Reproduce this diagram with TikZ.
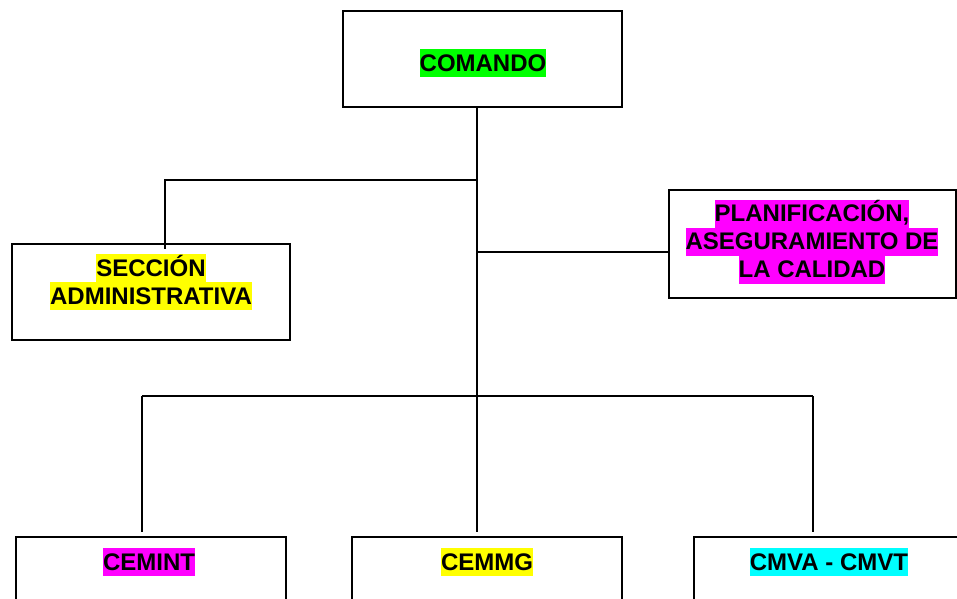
\documentclass[tikz,border=0pt]{standalone}
\usepackage{fontspec}
\setmainfont{Liberation Sans}
\definecolor{hlgreen}{RGB}{0,255,0}
\definecolor{hlyellow}{RGB}{255,255,0}
\definecolor{hlmagenta}{RGB}{255,0,255}
\definecolor{hlcyan}{RGB}{0,255,255}
\newcommand\hlt[2]{{\setlength{\fboxsep}{0pt}\colorbox{#1}{\rule[-6pt]{0pt}{28pt}#2}}}
\tikzset{
  orgbox/.style={draw=black, line width=2pt, rectangle, inner sep=0pt},
  lbl/.style={inner sep=0pt, align=center, text=black,
    font=\fontsize{24}{28}\selectfont\bfseries},
  conn/.style={draw=black, line width=1.6pt}
}
\begin{document}
\begin{tikzpicture}[x=1pt, y=-1pt]
\clip (0,0) rectangle (957,598);
\fill[white] (0,0) rectangle (957,598);
% boxes
\node[orgbox, minimum width=279pt, minimum height=96pt] (cmd) at (482.5,59) {};
\node[orgbox, minimum width=278pt, minimum height=96pt] (sec) at (151,292) {};
\node[orgbox, minimum width=287pt, minimum height=108pt] (plan) at (812.5,244) {};
\node[orgbox, minimum width=270pt, minimum height=103pt] (cemint) at (151,588.5) {};
\node[orgbox, minimum width=270pt, minimum height=103pt] (cemmg) at (487,588.5) {};
\node[orgbox, minimum width=270pt, minimum height=103pt] (cmva) at (829,588.5) {};
% labels
\node[lbl] (cmdt) at (483,63) {\hlt{hlgreen}{COMANDO}};
\node[lbl] (sect) at (151,282) {\hlt{hlyellow}{SECCIÓN}\\\hlt{hlyellow}{ADMINISTRATIVA}};
\node[lbl] (plant) at (812,241.5) {\hlt{hlmagenta}{PLANIFICACIÓN,}\\\hlt{hlmagenta}{ASEGURAMIENTO DE}\\\hlt{hlmagenta}{LA CALIDAD}};
\node[lbl] (cemintt) at (149,562) {\hlt{hlmagenta}{CEMINT}};
\node[lbl] (cemmgt) at (487,562) {\hlt{hlyellow}{CEMMG}};
\node[lbl] (cmvat) at (829,562) {\hlt{hlcyan}{CMVA - CMVT}};
% connectors
\coordinate (j1) at (477,180);
\coordinate (j2) at (477,252);
\coordinate (bl) at (142,396);
\coordinate (br) at (813,396);
\draw[conn] ([xshift=-5.5pt]cmd.south) -- ([xshift=-10pt,yshift=4pt]cemmg.north);
\draw[conn] (j1) -| ([xshift=14pt,yshift=-6pt]sec.north);
\draw[conn] (j2) -- (j2 -| plan.west);
\draw[conn] (bl) -- (br);
\draw[conn] (bl) -- ([xshift=-9pt,yshift=4pt]cemint.north);
\draw[conn] (br) -- ([xshift=-16pt,yshift=4pt]cmva.north);
\end{tikzpicture}
\end{document}
